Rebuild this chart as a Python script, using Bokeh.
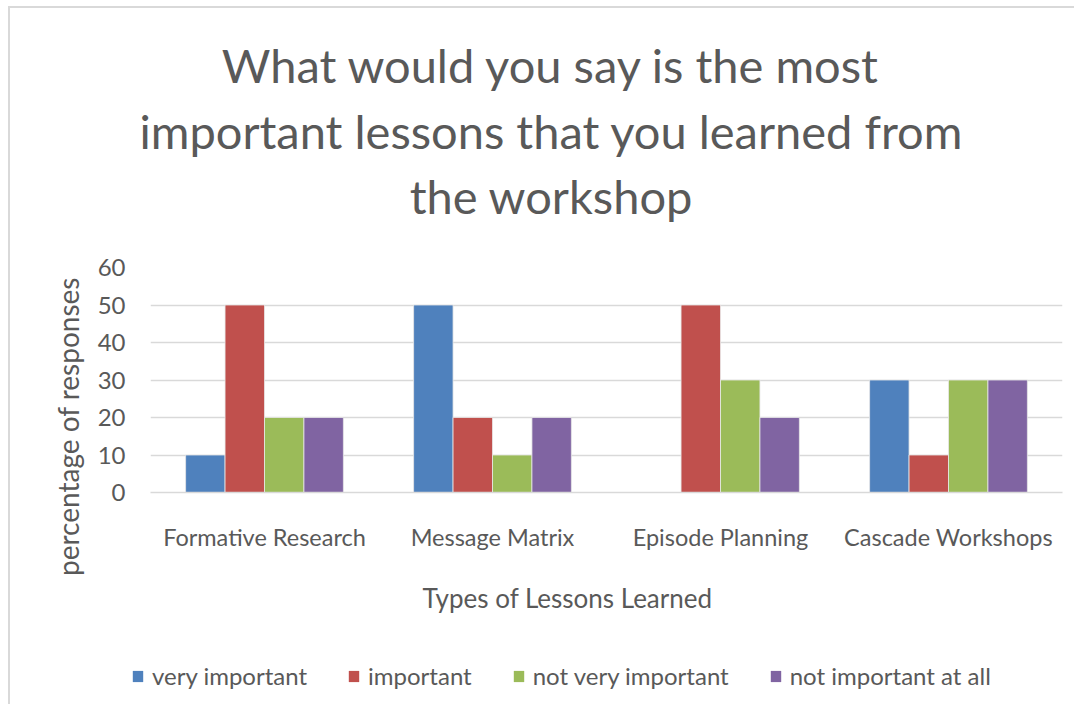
import math
from bokeh.plotting import figure
from bokeh.models import ColumnDataSource, FactorRange, Range1d, Legend, LegendItem
from bokeh.layouts import column, row
from bokeh.core.properties import value
from bokeh.transform import dodge
from bokeh.embed import file_html
from bokeh.resources import INLINE

categories = ["Formative Research", "Message Matrix", "Episode Planning", "Cascade Workshops"]
series_names = ["very important", "important", "not very important", "not important at all"]
very_important = [10, 50, 0, 30]
important = [50, 20, 50, 10]
not_very_important = [20, 10, 30, 30]
not_important_at_all = [20, 20, 20, 30]
y_ticks = [0, 10, 20, 30, 40, 50, 60]
title_lines = ["What would you say is the most",
               "important lessons that you learned from",
               "the workshop"]
x_title = "Types of Lessons Learned"
y_title = "percentage of responses"
colors = ["#4F81BD", "#C0504D", "#9BBB59", "#8064A2"]

TEXT = "#595959"
FONT = "Lato"
W = 1064
LEFT_W = 80
RIGHT_W = W - LEFT_W
TOP_H = 239
MAIN_H = 315
XT_H = 66
LEG_H = 76


def blank(width, height, xr, yr):
    f = figure(width=width, height=height, x_range=Range1d(0, xr), y_range=Range1d(0, yr),
               x_axis_location=None, y_axis_location=None, output_backend="svg",
               toolbar_location=None, min_border=0)
    f.grid.visible = False
    f.outline_line_color = None
    return f


# ---- title block ----
tfig = blank(W, TOP_H, W, TOP_H)
tsrc = ColumnDataSource(dict(x=[541, 541, 541], y=[183, 117, 52], t=title_lines))
tfig.text(x="x", y="y", text="t", source=tsrc, text_align="center", text_baseline="alphabetic",
          text_font=value(FONT), text_font_size="47px", text_color=TEXT)

# ---- y-axis title block ----
yfig = blank(LEFT_W, MAIN_H + XT_H, LEFT_W, MAIN_H + XT_H)
yfig.text(x=[57], y=[202], text=[y_title], angle=math.pi / 2, text_align="center",
          text_baseline="middle", text_font=value(FONT), text_font_size="28px", text_color=TEXT)

# ---- main chart ----
source = ColumnDataSource(dict(cat=categories, s0=very_important, s1=important,
                               s2=not_very_important, s3=not_important_at_all))

p = figure(width=RIGHT_W, height=MAIN_H, x_range=FactorRange(*categories, range_padding=0),
           y_range=Range1d(0, 60), output_backend="svg", toolbar_location=None,
           min_border_left=60, min_border_right=12, min_border_top=20, min_border_bottom=70)

bw = 0.173
offsets = [-1.5 * bw, -0.5 * bw, 0.5 * bw, 1.5 * bw]
keys = ["s0", "s1", "s2", "s3"]
for i, key in enumerate(keys):
    p.vbar(x=dodge("cat", offsets[i], range=p.x_range), top=key, width=bw, source=source,
           fill_color=colors[i], line_color="#e8e8e8", line_width=0.8)

p.xgrid.visible = False
p.ygrid.grid_line_color = "#d9d9d9"
p.ygrid.grid_line_width = 1.5
p.outline_line_color = None

p.yaxis.ticker = y_ticks
p.yaxis.axis_line_color = None
p.yaxis.major_tick_line_color = None
p.yaxis.minor_tick_line_color = None
p.yaxis.major_label_text_font = FONT
p.yaxis.major_label_text_font_size = "24px"
p.yaxis.major_label_text_color = TEXT
p.yaxis.major_label_standoff = 19

p.xaxis.axis_line_color = "#d9d9d9"
p.xaxis.axis_line_width = 1.5
p.xaxis.major_tick_line_color = None
p.xaxis.minor_tick_line_color = None
p.xaxis.major_label_text_font = FONT
p.xaxis.major_label_text_font_size = "23.5px"
p.xaxis.major_label_text_color = TEXT
p.xaxis.major_label_standoff = 24

# ---- x-axis title block (its frame is aligned with the chart's frame) ----
xfig = blank(RIGHT_W, XT_H, 912, XT_H)
xfig.text(x=[417], y=[31], text=[x_title], text_align="center", text_baseline="middle",
          text_font=value(FONT), text_font_size="26px", text_color=TEXT)

# ---- legend block ----
lfig = blank(W, LEG_H, W, LEG_H)
proxies = []
for i in range(4):
    proxies.append(lfig.vbar(x=[-500], top=[0], width=1, fill_color=colors[i], line_color=None))
legend = Legend(items=[LegendItem(label=n, renderers=[r]) for n, r in zip(series_names, proxies)],
                orientation="horizontal", location=(121, 14), border_line_color=None,
                background_fill_alpha=0,
                label_text_font=FONT, label_text_font_size="24px", label_text_color=TEXT,
                glyph_width=13, glyph_height=14, spacing=40, label_standoff=8,
                margin=0, padding=0)
lfig.add_layout(legend, "center")

layout = column(tfig, row(yfig, column(p, xfig, spacing=0), spacing=0), lfig, spacing=0,
                styles={"border-top": "2px solid #d9d9d9", "border-left": "2px solid #d9d9d9",
                        "margin-left": "8px", "margin-top": "6px"})

open("out.html", "w").write(file_html(layout, INLINE))
